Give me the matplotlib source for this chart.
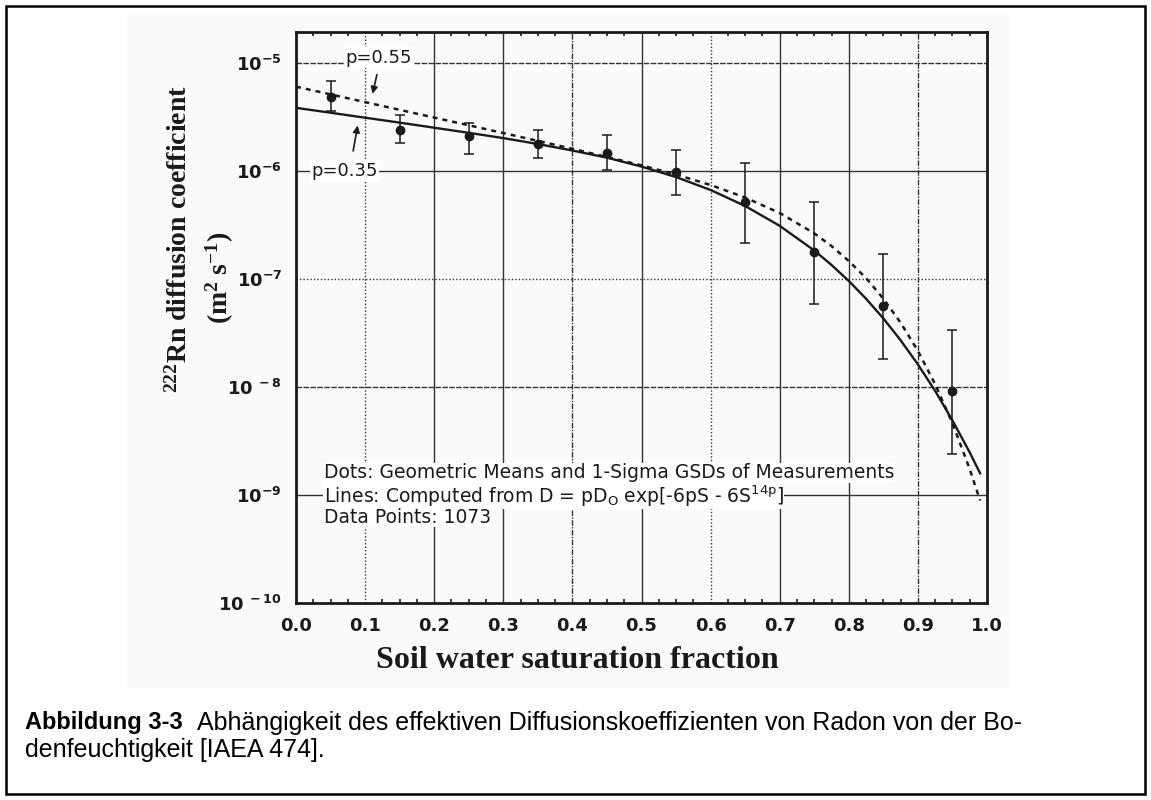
import matplotlib
matplotlib.use("Agg")
import matplotlib.pyplot as plt
from matplotlib.patches import Rectangle
from matplotlib.ticker import FixedLocator, MultipleLocator
import numpy as np

plt.rcParams['mathtext.default'] = 'regular'

## measured points (geometric means and 1-sigma range)
sat = [0.05, 0.15, 0.25, 0.35, 0.45, 0.55, 0.65, 0.75, 0.85, 0.95]
gmean = [4.85e-6, 2.42e-6, 2.1e-6, 1.77e-6, 1.47e-6, 9.9e-7, 5.2e-7, 1.77e-7, 5.6e-8, 9.1e-9]
err_lo = [3.6e-6, 1.8e-6, 1.45e-6, 1.33e-6, 1.03e-6, 6.0e-7, 2.15e-7, 5.9e-8, 1.83e-8, 2.4e-9]
err_hi = [6.8e-6, 3.3e-6, 2.8e-6, 2.42e-6, 2.17e-6, 1.58e-6, 1.19e-6, 5.2e-7, 1.7e-7, 3.4e-8]

## curves
s_curve = [0.0, 0.05, 0.1, 0.15, 0.2, 0.25, 0.3, 0.35, 0.4, 0.45, 0.5, 0.55, 0.6, 0.65,
           0.7, 0.75, 0.775, 0.8, 0.825, 0.85, 0.875, 0.9, 0.925, 0.95, 0.975, 0.99]
d_p035 = [3.85e-6, 3.47e-6, 3.12e-6, 2.81e-6, 2.52e-6, 2.26e-6, 2.02e-6, 1.78e-6, 1.55e-6,
          1.33e-6, 1.10e-6, 8.8e-7, 6.68e-7, 4.75e-7, 3.11e-7, 1.84e-7, 1.35e-7, 9.6e-8,
          6.57e-8, 4.32e-8, 2.71e-8, 1.62e-8, 9.2e-9, 4.9e-9, 2.48e-9, 1.59e-9]
s_curve2 = [0.0, 0.1, 0.2, 0.3, 0.4, 0.5, 0.55, 0.6, 0.65, 0.7, 0.75, 0.775, 0.8, 0.825,
            0.85, 0.875, 0.9, 0.925, 0.95, 0.975, 0.99]
d_p055 = [6.05e-6, 4.35e-6, 3.13e-6, 2.25e-6, 1.61e-6, 1.13e-6, 9.28e-7, 7.43e-7, 5.69e-7,
          4.09e-7, 2.65e-7, 2.02e-7, 1.47e-7, 1.02e-7, 6.58e-8, 3.94e-8, 2.16e-8, 1.06e-8,
          4.62e-9, 1.74e-9, 8.9e-10]

xticks = [0.0, 0.1, 0.2, 0.3, 0.4, 0.5, 0.6, 0.7, 0.8, 0.9, 1.0]
yticks = [1e-10, 1e-9, 1e-8, 1e-7, 1e-6, 1e-5]
ytick_labels = ['10$^{\\ -10}$', '10$^{-9}$', '10$^{\\ -8}$', '10$^{-7}$', '10$^{-6}$', '10$^{-5}$']

ink = '#1a1a1a'

fig = plt.figure(figsize=(11.51, 8), dpi=100)

# scanned area + outer frame
fig.patches.append(Rectangle((127/1151, 1-688/800), (1010-127)/1151, (688-15)/800,
                             transform=fig.transFigure, facecolor='#fafafa', edgecolor='none', zorder=-2))
fig.patches.append(Rectangle((6/1151, 6/800), 1-12/1151, 1-12/800, transform=fig.transFigure,
                             facecolor='none', edgecolor='black', linewidth=1.8, zorder=5))

ax = fig.add_axes([296/1151, 1-603/800, (987-296)/1151, (603-32)/800])
ax.set_zorder(2)
ax.set_facecolor('none')
ax.set_yscale('log')
ax.set_xlim(0, 1.0)
ax.set_ylim(1e-10, 1.94e-5)

## grid, mixed styles like the scan
vstyle = {0.1: (0, (1, 1.5)), 0.2: '-', 0.3: '-', 0.4: (0, (4, 1, 1, 1)), 0.5: '-',
          0.6: (0, (1, 1.5)), 0.7: '-', 0.8: '-', 0.9: (0, (4, 1, 1, 1))}
for xv, ls in vstyle.items():
    ax.axvline(xv, color='#333333', lw=1.0, ls=ls, zorder=1)
hstyle = {1e-5: (0, (4, 1)), 1e-6: '-', 1e-7: (0, (1, 1.5)), 1e-8: (0, (4, 1)), 1e-9: '-'}
for yv, ls in hstyle.items():
    ax.axhline(yv, color='#333333', lw=1.0, ls=ls, zorder=1)

ax.plot(s_curve, d_p035, color=ink, lw=1.7, zorder=3)
ax.plot(s_curve2, d_p055, color=ink, lw=1.8, ls=(0, (2, 2)), zorder=3)

yerr = [np.array(gmean) - np.array(err_lo), np.array(err_hi) - np.array(gmean)]
ax.errorbar(sat, gmean, yerr=yerr, fmt='o', color=ink, ms=6, elinewidth=1.1,
            capsize=3.5, capthick=1.1, zorder=4)

## labels on the curves
bb = dict(facecolor='white', edgecolor='none', pad=1)
ax.text(0.12, 1.12e-5, 'p=0.55', fontsize=13, color=ink, ha='center', va='center', bbox=bb, zorder=5)
ax.text(0.07, 1e-6, 'p=0.35', fontsize=13, color=ink, ha='center', va='center', bbox=bb, zorder=5)
ax.annotate('', xy=(0.11, 4.9e-6), xytext=(0.118, 8.3e-6),
            arrowprops=dict(arrowstyle='-|>', color=ink, lw=1.2, mutation_scale=10), zorder=5)
ax.annotate('', xy=(0.09, 2.8e-6), xytext=(0.082, 1.45e-6),
            arrowprops=dict(arrowstyle='-|>', color=ink, lw=1.2, mutation_scale=10), zorder=5)

## note block
tb = dict(facecolor='white', edgecolor='none', pad=0.3)
ax.text(0.04, 1.6e-9, 'Dots: Geometric Means and 1-Sigma GSDs of Measurements',
        fontsize=13.5, color=ink, va='center', bbox=tb, zorder=5)
ax.text(0.04, 9.8e-10, 'Lines: Computed from D = pD$_O$ exp[-6pS - 6S$^{14p}$]',
        fontsize=13.5, color=ink, va='center', bbox=tb, zorder=6)
ax.text(0.04, 6.2e-10, 'Data Points: 1073',
        fontsize=13.5, color=ink, va='center', bbox=tb, zorder=7)

## axes cosmetics
for sp in ax.spines.values():
    sp.set_linewidth(2.0)
    sp.set_color(ink)
ax.xaxis.set_major_locator(FixedLocator(xticks))
ax.xaxis.set_minor_locator(MultipleLocator(0.025))
ax.set_xticklabels(['%.1f' % v for v in xticks])
ax.yaxis.set_major_locator(FixedLocator(yticks))
ax.yaxis.set_minor_locator(FixedLocator([]))
ax.set_yticklabels(ytick_labels)
ax.tick_params(axis='both', which='major', direction='in', length=0, pad=10,
               labelsize=13, labelcolor=ink)
ax.tick_params(axis='x', which='minor', direction='in', length=3, width=1.2, top=True, color=ink)
for lab in ax.get_xticklabels() + ax.get_yticklabels():
    lab.set_fontweight('bold')

fig.text(0.156, 1-239/800, '$^{222}$Rn diffusion coefficient', rotation=90, ha='center', va='center',
         fontsize=20, fontweight='bold', family='Liberation Serif', color=ink)
fig.text(0.191, 1-278/800, '(m$^{2}$ s$^{-1}$)', rotation=90, ha='center', va='center',
         fontsize=20, fontweight='bold', family='Liberation Serif', color=ink)
fig.text(577/1151, 1-660/800, 'Soil water saturation fraction', ha='center', va='center',
         fontsize=23, fontweight='bold', family='Liberation Serif', color=ink)

## caption
cap1 = fig.text(25/1151, 1-723/800, 'Abbildung 3-3', ha='left', va='center',
                fontsize=17, fontweight='bold', family='Liberation Sans')
fig.canvas.draw()
ext = cap1.get_window_extent()
fig.text((ext.x1 + 14)/1151, 1-723/800,
         'Abhängigkeit des effektiven Diffusionskoeffizienten von Radon von der Bo-',
         ha='left', va='center', fontsize=18, family='Liberation Sans')
fig.text(25/1151, 1-750/800, 'denfeuchtigkeit [IAEA 474].', ha='left', va='center',
         fontsize=18, family='Liberation Sans')

fig.savefig('out.png', dpi=100)
